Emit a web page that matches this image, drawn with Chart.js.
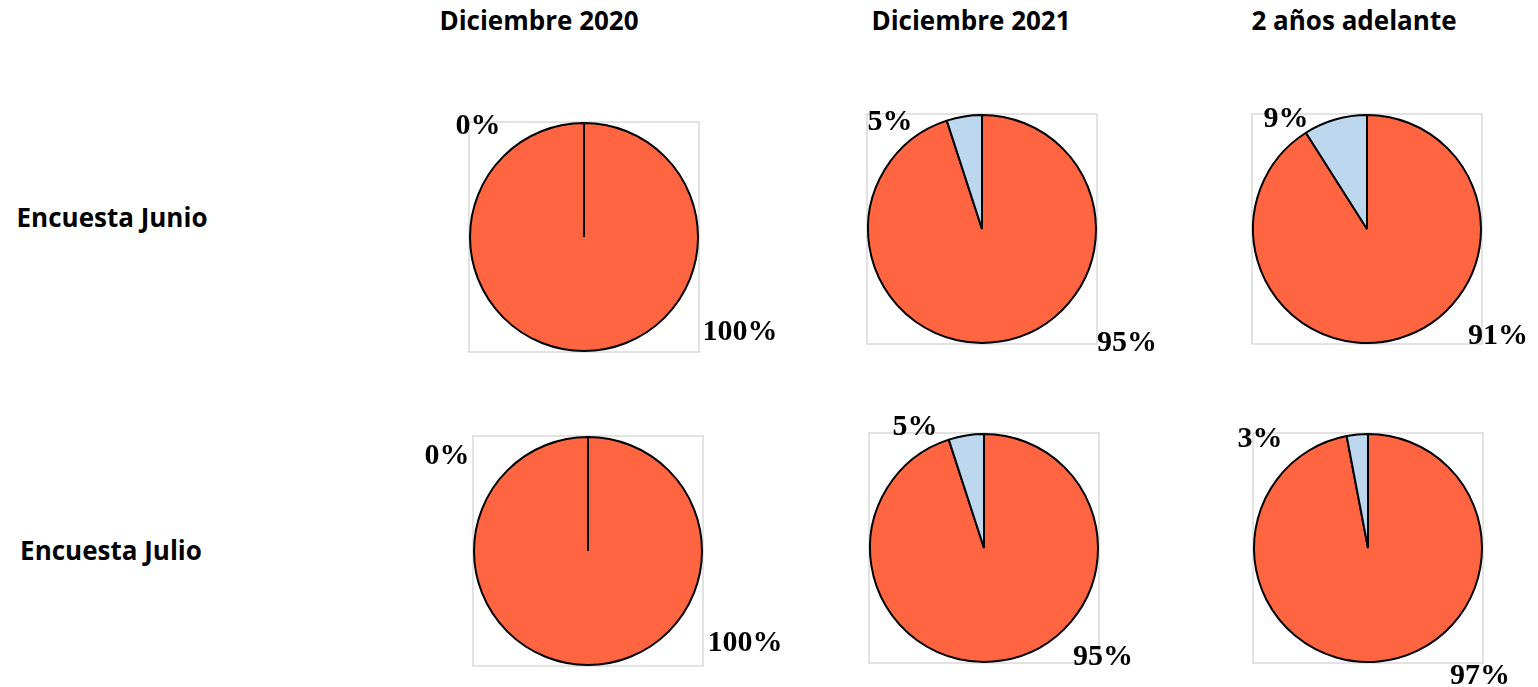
<!DOCTYPE html>
<html>
<head>
<meta charset="utf-8">
<script src="https://cdn.jsdelivr.net/npm/chart.js@4/dist/chart.umd.min.js"></script>
<style>
  html, body { margin: 0; padding: 0; background: #fff; }
  body { width: 1538px; height: 687px; position: relative; overflow: hidden; }
  .txt { position: absolute; transform: translate(-50%, -50%); font-family: "Open Sans", sans-serif;
         font-weight: 700; font-size: 26px; color: #000; white-space: nowrap; }
  canvas { position: absolute; }
</style>
</head>
<body>
<script>
  // data
  const periods = ['Diciembre 2020', 'Diciembre 2021', '2 años adelante'];
  const surveys = ['Encuesta Junio', 'Encuesta Julio'];
  const sliceLabels = ['Mayor', 'Menor'];
  const majorJunio = [100, 95, 91];
  const minorJunio = [0, 5, 9];
  const majorJulio = [100, 95, 97];
  const minorJulio = [0, 5, 3];

  const majors = [majorJunio, majorJulio];
  const minors = [minorJunio, minorJulio];

  // layout (frame left/top of each pie, label offsets from pie centre)
  const FRAME = 230, PAD = 90;
  const frames = [
    [[469, 122], [867, 114], [1252, 114]],
    [[473, 436], [869, 433], [1253, 433]]
  ];
  const labelOffsets = [
    [[[156, 95], [-106, -111]], [[145, 114], [-92, -107]], [[131, 107], [-81, -110]]],
    [[[157, 92], [-141, -95]], [[119, 109], [-69, -121]], [[112, 128], [-108, -109]]]
  ];
  const headerPos = [[539, 20], [971, 20], [1354, 20]];
  const rowPos = [[112, 217], [111, 550]];

  function addText(s, x, y) {
    const d = document.createElement('div');
    d.className = 'txt';
    d.textContent = s;
    d.style.left = x + 'px';
    d.style.top = y + 'px';
    document.body.appendChild(d);
  }
  periods.forEach((p, i) => addText(p, headerPos[i][0], headerPos[i][1]));
  surveys.forEach((s, i) => addText(s, rowPos[i][0], rowPos[i][1]));

  const framePlugin = {
    id: 'frame',
    beforeDraw(chart) {
      const a = chart.chartArea, c = chart.ctx;
      c.save();
      c.strokeStyle = '#d9d9d9';
      c.lineWidth = 1.5;
      c.strokeRect(a.left, a.top, a.right - a.left, a.bottom - a.top);
      c.restore();
    }
  };

  const labelPlugin = {
    id: 'pctLabels',
    afterDraw(chart, args, opts) {
      const c = chart.ctx;
      const arc = chart.getDatasetMeta(0).data[0];
      const vals = chart.data.datasets[0].data;
      c.save();
      c.font = 'bold 30px "Liberation Serif", "Times New Roman", serif';
      c.fillStyle = '#000';
      c.textAlign = 'center';
      c.textBaseline = 'middle';
      vals.forEach((v, k) => {
        const o = opts.offsets[k];
        c.fillText(v + '%', arc.x + o[0], arc.y + o[1]);
      });
      c.restore();
    }
  };

  surveys.forEach((s, r) => {
    periods.forEach((p, i) => {
      const cv = document.createElement('canvas');
      const size = FRAME + 2 * PAD;
      cv.width = size;
      cv.height = size;
      cv.style.left = (frames[r][i][0] - PAD) + 'px';
      cv.style.top = (frames[r][i][1] - PAD) + 'px';
      document.body.appendChild(cv);

      new Chart(cv, {
        type: 'pie',
        data: {
          labels: sliceLabels,
          datasets: [{
            data: [majors[r][i], minors[r][i]],
            backgroundColor: ['#FF6540', '#BDD7EE'],
            borderColor: '#000',
            borderWidth: 2
          }]
        },
        options: {
          responsive: false,
          animation: false,
          layout: { padding: PAD },
          plugins: {
            legend: { display: false },
            tooltip: { enabled: false },
            pctLabels: { offsets: labelOffsets[r][i] }
          }
        },
        plugins: [framePlugin, labelPlugin]
      });
    });
  });
</script>
</body>
</html>
